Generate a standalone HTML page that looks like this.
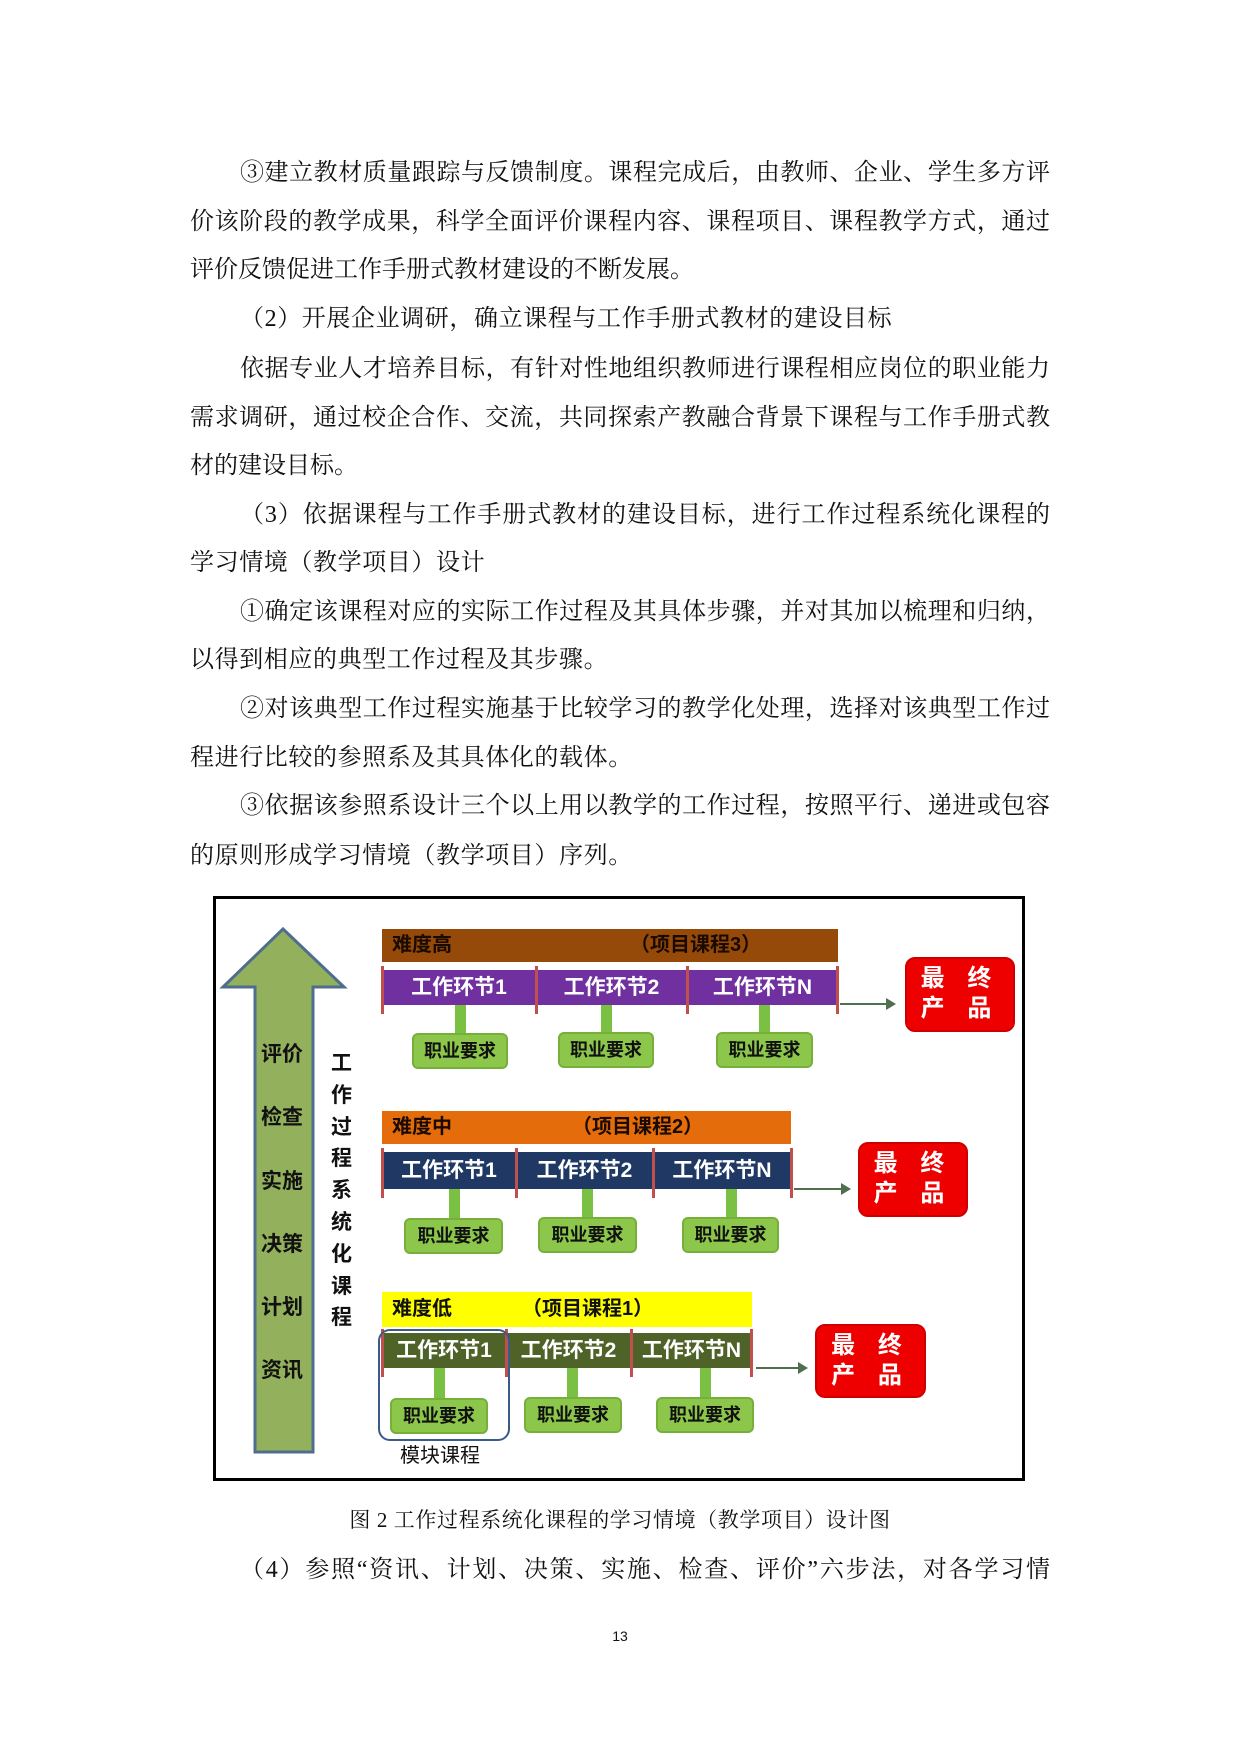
<!DOCTYPE html>
<html><head><meta charset="utf-8"><style>
body{margin:0;background:#fff;}
#p{position:relative;width:1240px;height:1753px;overflow:hidden;font-family:"Liberation Serif","Noto Serif CJK SC",serif;color:#111;}
.l{position:absolute;font-size:24px;line-height:30px;white-space:nowrap;}
.j{white-space:normal;text-align:justify;text-align-last:justify;}
.f{left:190px;width:860px;}
.i{left:240px;width:810px;}
.a{position:absolute;}
.bar{position:absolute;font-family:"Liberation Sans","Noto Sans CJK SC",sans-serif;font-weight:bold;}
.hd{font-size:20px;line-height:32px;}
.seg{position:absolute;color:#fff;font-size:21px;text-align:center;font-family:"Liberation Sans","Noto Sans CJK SC",sans-serif;font-weight:bold;}
.dv{position:absolute;width:3px;background:#c0504d;}
.gk{position:absolute;width:11px;background:#7ac143;}
.gb{position:absolute;background:#8cc64a;border:2px solid #76b03a;border-radius:6px;box-sizing:border-box;font-family:"Liberation Sans","Noto Sans CJK SC",sans-serif;font-weight:bold;font-size:18px;text-align:center;color:#111;}
.rb{position:absolute;background:#ee0000;border:2px solid #c00;border-radius:10px;box-sizing:border-box;color:#fff;font-family:"Liberation Sans","Noto Sans CJK SC",sans-serif;font-weight:bold;font-size:24px;line-height:30px;text-align:center;padding-top:5px;letter-spacing:8px;}
.ar{position:absolute;height:2px;background:#4f6f4f;}
.ar:after{content:"";position:absolute;right:-2px;top:-5px;border-left:10px solid #4f6f4f;border-top:6px solid transparent;border-bottom:6px solid transparent;}
.sl{position:absolute;font-family:"Liberation Sans","Noto Sans CJK SC",sans-serif;font-weight:bold;font-size:21px;color:#111;}
</style></head><body><div id="p">
<div class="l j i" style="top:158px">③建立教材质量跟踪与反馈制度。课程完成后，由教师、企业、学生多方评</div>
<div class="l j f" style="top:207px">价该阶段的教学成果，科学全面评价课程内容、课程项目、课程教学方式，通过</div>
<div class="l" style="left:190px;top:255px">评价反馈促进工作手册式教材建设的不断发展。</div>
<div class="l" style="left:240px;top:304px;letter-spacing:0.6px">（2）开展企业调研，确立课程与工作手册式教材的建设目标</div>
<div class="l j i" style="top:354px">依据专业人才培养目标，有针对性地组织教师进行课程相应岗位的职业能力</div>
<div class="l j f" style="top:403px">需求调研，通过校企合作、交流，共同探索产教融合背景下课程与工作手册式教</div>
<div class="l" style="left:190px;top:451px">材的建设目标。</div>
<div class="l j i" style="top:500px">（3）依据课程与工作手册式教材的建设目标，进行工作过程系统化课程的</div>
<div class="l" style="left:190px;top:548px;letter-spacing:0.6px">学习情境（教学项目）设计</div>
<div class="l j i" style="top:597px">①确定该课程对应的实际工作过程及其具体步骤，并对其加以梳理和归纳，</div>
<div class="l" style="left:190px;top:645px;letter-spacing:0.6px">以得到相应的典型工作过程及其步骤。</div>
<div class="l j i" style="top:694px">②对该典型工作过程实施基于比较学习的教学化处理，选择对该典型工作过</div>
<div class="l" style="left:190px;top:743px;letter-spacing:0.6px">程进行比较的参照系及其具体化的载体。</div>
<div class="l j i" style="top:791px">③依据该参照系设计三个以上用以教学的工作过程，按照平行、递进或包容</div>
<div class="l" style="left:190px;top:841px;letter-spacing:0.6px">的原则形成学习情境（教学项目）序列。</div>

<div class="a" style="left:213px;top:896px;width:812px;height:585px;border:3px solid #000;box-sizing:border-box"></div>
<svg class="a" style="left:0;top:0" width="1240" height="1753"><polygon points="283,929 344,987 313,987 313,1452 255,1452 255,987 223,987" fill="#93b05c" stroke="#4f6e8e" stroke-width="3"/></svg>
<div class="sl" style="left:261px;top:1038px">评价</div>
<div class="sl" style="left:261px;top:1101px">检查</div>
<div class="sl" style="left:261px;top:1165px">实施</div>
<div class="sl" style="left:261px;top:1228px">决策</div>
<div class="sl" style="left:261px;top:1291px">计划</div>
<div class="sl" style="left:261px;top:1354px">资讯</div>
<div class="sl" style="left:331px;top:1048px;width:22px;line-height:31.8px;font-size:21px">工作过程系统化课程</div>

<!-- row 3 -->
<div class="bar hd" style="left:382px;top:929px;width:456px;height:33px;background:#954a0a"><span style="position:absolute;left:10px;color:#1a0a00">难度高</span><span style="position:absolute;left:248px;color:#1a0a00">（项目课程3）</span></div>
<div class="bar" style="left:382px;top:970px;width:456px;height:35px;background:#7030a0"></div>
<div class="seg" style="left:382px;top:970px;width:154px;line-height:35px">工作环节1</div>
<div class="seg" style="left:536px;top:970px;width:151px;line-height:35px">工作环节2</div>
<div class="seg" style="left:687px;top:970px;width:151px;line-height:35px">工作环节N</div>
<div class="dv" style="left:381px;top:966px;height:48px"></div><div class="dv" style="left:535px;top:966px;height:48px"></div><div class="dv" style="left:686px;top:966px;height:48px"></div><div class="dv" style="left:836px;top:966px;height:48px"></div>
<div class="gk" style="left:455px;top:1005px;height:30px"></div><div class="gk" style="left:601px;top:1005px;height:30px"></div><div class="gk" style="left:759px;top:1005px;height:30px"></div>
<div class="gb" style="left:412px;top:1033px;width:96px;height:36px;line-height:32px">职业要求</div>
<div class="gb" style="left:558px;top:1032px;width:96px;height:36px;line-height:32px">职业要求</div>
<div class="gb" style="left:716px;top:1032px;width:97px;height:36px;line-height:32px">职业要求</div>
<div class="ar" style="left:840px;top:1003px;width:54px"></div>
<div class="rb" style="left:905px;top:957px;width:110px;height:75px">最 终<br>产 品</div>

<!-- row 2 -->
<div class="bar hd" style="left:382px;top:1111px;width:409px;height:33px;background:#e46c0a"><span style="position:absolute;left:10px;color:#1a0a00">难度中</span><span style="position:absolute;left:190px;color:#1a0a00">（项目课程2）</span></div>
<div class="bar" style="left:382px;top:1152px;width:409px;height:37px;background:#1f3864"></div>
<div class="seg" style="left:382px;top:1152px;width:134px;line-height:37px">工作环节1</div>
<div class="seg" style="left:516px;top:1152px;width:137px;line-height:37px">工作环节2</div>
<div class="seg" style="left:653px;top:1152px;width:138px;line-height:37px">工作环节N</div>
<div class="dv" style="left:381px;top:1148px;height:50px"></div><div class="dv" style="left:515px;top:1148px;height:50px"></div><div class="dv" style="left:652px;top:1148px;height:50px"></div><div class="dv" style="left:790px;top:1148px;height:50px"></div>
<div class="gk" style="left:449px;top:1189px;height:30px"></div><div class="gk" style="left:582px;top:1189px;height:30px"></div><div class="gk" style="left:726px;top:1189px;height:30px"></div>
<div class="gb" style="left:404px;top:1218px;width:99px;height:36px;line-height:32px">职业要求</div>
<div class="gb" style="left:538px;top:1217px;width:99px;height:36px;line-height:32px">职业要求</div>
<div class="gb" style="left:682px;top:1217px;width:97px;height:36px;line-height:32px">职业要求</div>
<div class="ar" style="left:794px;top:1188px;width:55px"></div>
<div class="rb" style="left:858px;top:1142px;width:110px;height:75px">最 终<br>产 品</div>

<!-- row 1 -->
<div class="bar hd" style="left:382px;top:1292px;width:370px;height:35px;background:#ffff00"><span style="position:absolute;left:10px;top:1px;color:#111">难度低</span><span style="position:absolute;left:140px;top:1px;color:#111">（项目课程1）</span></div>
<div class="bar" style="left:382px;top:1333px;width:370px;height:35px;background:#4f6228"></div>
<div class="seg" style="left:382px;top:1333px;width:124px;line-height:35px">工作环节1</div>
<div class="seg" style="left:506px;top:1333px;width:125px;line-height:35px">工作环节2</div>
<div class="seg" style="left:631px;top:1333px;width:121px;line-height:35px">工作环节N</div>
<div class="dv" style="left:381px;top:1329px;height:48px"></div><div class="dv" style="left:505px;top:1329px;height:48px"></div><div class="dv" style="left:630px;top:1329px;height:48px"></div><div class="dv" style="left:750px;top:1329px;height:48px"></div>
<div class="gk" style="left:434px;top:1368px;height:31px"></div><div class="gk" style="left:567px;top:1368px;height:31px"></div><div class="gk" style="left:700px;top:1368px;height:31px"></div>
<div class="gb" style="left:390px;top:1398px;width:98px;height:36px;line-height:32px">职业要求</div>
<div class="gb" style="left:524px;top:1397px;width:98px;height:36px;line-height:32px">职业要求</div>
<div class="gb" style="left:656px;top:1397px;width:98px;height:36px;line-height:32px">职业要求</div>
<div class="ar" style="left:756px;top:1367px;width:50px"></div>
<div class="rb" style="left:815px;top:1324px;width:111px;height:74px">最 终<br>产 品</div>
<div class="a" style="left:378px;top:1329px;width:132px;height:112px;border:2px solid #3a5a8a;border-radius:12px;box-sizing:border-box"></div>
<div class="a" style="left:400px;top:1443px;font-family:'Liberation Sans','Noto Sans CJK SC',sans-serif;font-size:20px;line-height:26px">模块课程</div>

<div class="a" style="left:0;width:1240px;top:1507px;text-align:center;font-size:21px;line-height:26px;letter-spacing:0.6px">图 2 工作过程系统化课程的学习情境（教学项目）设计图</div>
<div class="l j i" style="top:1555px">（4）参照“资讯、计划、决策、实施、检查、评价”六步法，对各学习情</div>
<div class="a" style="left:0;width:1240px;top:1628px;text-align:center;font-size:14px;font-family:'Liberation Sans',sans-serif">13</div>
</div></body></html>
